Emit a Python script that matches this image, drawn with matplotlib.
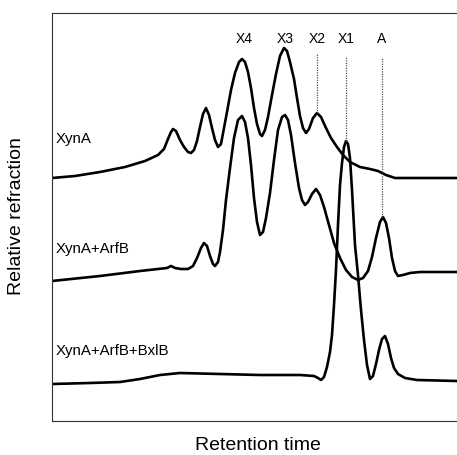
import matplotlib.pyplot as plt

# Chromatogram traces (retention, signal in arbitrary units)
xyna_t = [0, 23, 48, 73, 93, 106, 112, 116, 119, 121, 124, 128, 132, 136, 139, 142, 145, 148, 151, 154,
          157, 160, 163, 166, 169, 172, 175, 179, 183, 187, 190, 193, 196, 199, 202, 205, 208, 210, 213, 216,
          220, 224, 228, 232, 235, 238, 242, 245, 248, 251, 254, 257, 261, 265, 269, 274, 279, 285, 291, 298,
          308, 318, 326, 334, 343, 358, 405]
xyna_s = [243, 245, 249, 254, 260, 266, 272, 282, 289, 292, 290, 281, 274, 269, 268, 271, 280, 294, 307, 313,
          306, 293, 281, 274, 277, 293, 309, 331, 348, 359, 362, 359, 349, 333, 313, 297, 287, 285, 291, 304,
          326, 347, 365, 373, 370, 359, 342, 323, 305, 293, 288, 292, 303, 308, 304, 293, 283, 274, 266, 259,
          254, 252, 250, 246, 243, 243, 243]

arfb_t = [0, 48, 88, 115, 119, 123, 129, 136, 141, 145, 149, 152, 155, 158, 161, 163, 166, 168, 171, 174,
          178, 182, 186, 190, 193, 196, 199, 202, 205, 208, 211, 214, 218, 222, 226, 230, 233, 236, 239, 243,
          247, 250, 253, 256, 260, 264, 268, 272, 277, 282, 288, 294, 300, 306, 311, 316, 320, 324, 328, 331,
          334, 337, 340, 343, 346, 351, 358, 368, 405]
arfb_s = [140, 145, 150, 153, 155, 153, 152, 152, 155, 163, 173, 178, 175, 165, 157, 155, 159, 169, 191, 221,
          253, 283, 301, 305, 299, 283, 256, 223, 199, 186, 189, 203, 228, 261, 291, 304, 306, 301, 286, 258,
          233, 221, 216, 219, 227, 232, 226, 214, 196, 178, 163, 151, 144, 141, 143, 150, 164, 183, 199, 204,
          198, 183, 163, 150, 145, 146, 148, 149, 149]

bxlb_t = [0, 38, 68, 88, 108, 128, 168, 208, 248, 262, 266, 269, 272, 275, 278, 280, 282, 284, 286, 288,
          290, 292, 294, 296, 298, 300, 303, 306, 309, 312, 315, 318, 321, 324, 327, 330, 333, 336, 339, 342,
          346, 353, 365, 405]
bxlb_s = [37, 38, 39, 42, 46, 48, 47, 46, 46, 45, 43, 41, 44, 54, 69, 86, 116, 151, 196, 236,
          258, 274, 280, 277, 263, 231, 176, 146, 111, 81, 56, 42, 45, 57, 71, 82, 85, 77, 63, 53,
          47, 43, 41, 40]

# Peak markers: name, retention, dotted guide from top down to the peak it marks
peak_names = ['X4', 'X3', 'X2', 'X1', 'A']
peak_pos = [192, 233, 265, 294, 330]
guide_top = [None, None, 367, 364, 364]
guide_bottom = [None, None, 308, 280, 204]

trace_names = ['XynA', 'XynA+ArfB', 'XynA+ArfB+BxlB']
trace_label_y = [282, 172, 70]

plt.rcParams['font.family'] = ['Liberation Sans', 'DejaVu Sans']

fig = plt.figure(figsize=(4.57, 4.55), dpi=100)
ax = fig.add_axes([52 / 457, 34 / 455, 405 / 457, 408 / 455])

for t, s in [(xyna_t, xyna_s), (arfb_t, arfb_s), (bxlb_t, bxlb_s)]:
    ax.plot(t, s, color='black', lw=1.9, solid_joinstyle='round', solid_capstyle='round')

for name, x, top, bottom in zip(peak_names, peak_pos, guide_top, guide_bottom):
    ax.text(x, 382, name, ha='center', va='center', fontsize=10)
    if top is not None:
        ax.plot([x, x], [bottom, top], color='#555555', lw=0.9, ls=(0, (1, 1)))

for name, y in zip(trace_names, trace_label_y):
    ax.text(4, y, name, ha='left', va='center', fontsize=10.8)

ax.set_xlim(0, 405)
ax.set_ylim(0, 408)
ax.set_xticks([])
ax.set_yticks([])
ax.spines['right'].set_visible(False)
for side in ['left', 'top', 'bottom']:
    ax.spines[side].set_color('#333333')
    ax.spines[side].set_linewidth(0.8)

fig.text(17 / 457, 1 - 216 / 455, 'Relative refraction', rotation=90,
         ha='center', va='center', fontsize=14)
fig.text(258 / 457, 1 - 445 / 455, 'Retention time', ha='center', va='center', fontsize=14)

plt.savefig('out.png', dpi=100)
